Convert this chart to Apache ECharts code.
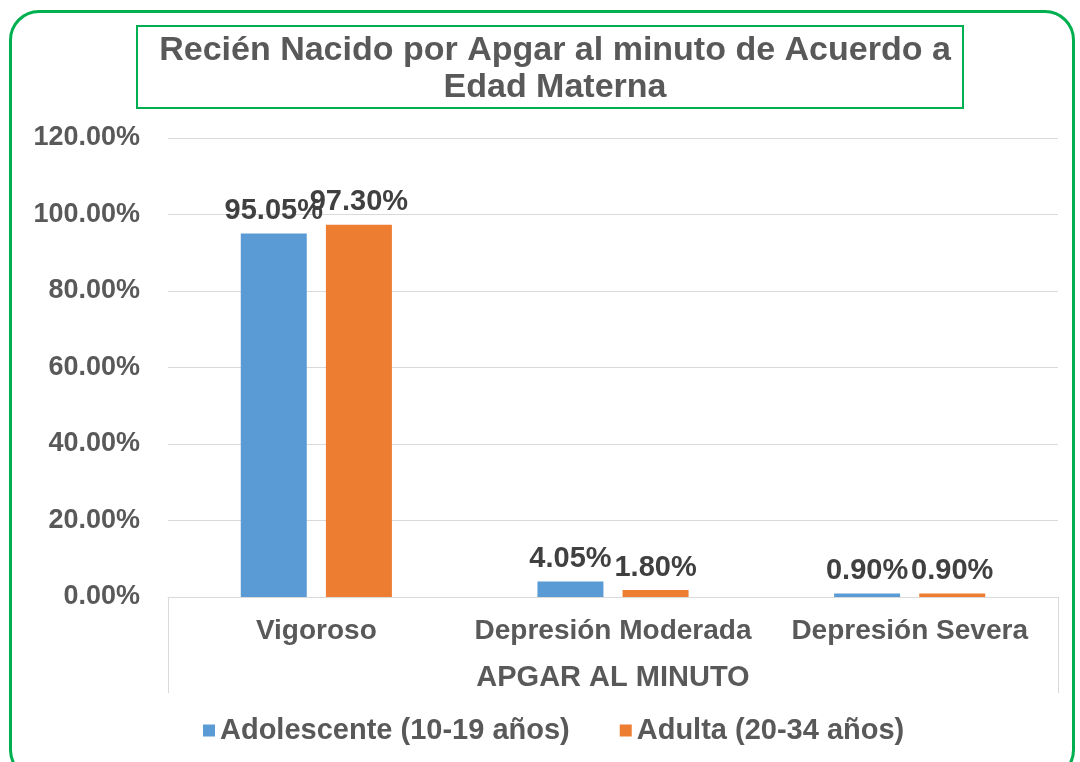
<!DOCTYPE html>
<html>
<head>
<meta charset="utf-8">
<script src="https://cdn.jsdelivr.net/npm/echarts@6/dist/echarts.min.js"></script>
<style>
  html, body { margin: 0; padding: 0; background: #fff; }
  #wrap { position: relative; width: 1080px; height: 762px; overflow: hidden; }
  #frame {
    position: absolute; left: 9px; top: 10px; width: 1066px; height: 770px;
    border: 3px solid #00B050; border-radius: 30px; box-sizing: border-box;
  }
  #chart { position: absolute; left: 0; top: 0; width: 1080px; height: 762px; }
</style>
</head>
<body>
<div id="wrap">
  <div id="frame"></div>
  <div id="chart"></div>
</div>
<script>
  // Apgar al minuto por edad materna
  var categories = ['Vigoroso', 'Depresión Moderada', 'Depresión Severa'];
  var adolescente = [95.05, 4.05, 0.90];
  var adulta = [97.30, 1.80, 0.90];
  var seriesNames = ['Adolescente (10-19 años)', 'Adulta (20-34 años)'];
  var titleText = 'Recién Nacido por Apgar al minuto de Acuerdo a\nEdad Materna';
  var axisName = 'APGAR AL MINUTO';

  var textColor = '#595959';
  var font = '"Liberation Sans", Arial, sans-serif';

  var chart = echarts.init(document.getElementById('chart'), null, { renderer: 'canvas' });

  function pct(v) { return v.toFixed(2) + '%'; }

  var labelStyle = {
    show: true,
    position: 'top',
    distance: 8,
    color: '#404040',
    fontFamily: font,
    fontWeight: 'bold',
    fontSize: 29,
    formatter: function (p) { return pct(p.value); }
  };

  chart.setOption({
    backgroundColor: 'transparent',
    animation: false,
    title: {
      text: titleText,
      left: 550,
      textAlign: 'center',
      top: 27,
      textStyle: {
        color: textColor,
        fontFamily: font,
        fontWeight: 'bold',
        fontSize: 34,
        lineHeight: 37
      }
    },
    graphic: [
      {
        type: 'rect',
        shape: { x: 137, y: 26, width: 826, height: 82 },
        style: { fill: 'none', stroke: '#00B050', lineWidth: 2 }
      },
      {
        type: 'line',
        shape: { x1: 168.5, y1: 597, x2: 168.5, y2: 693 },
        style: { stroke: '#d9d9d9', lineWidth: 1 }
      },
      {
        type: 'line',
        shape: { x1: 1058.5, y1: 597, x2: 1058.5, y2: 693 },
        style: { stroke: '#d9d9d9', lineWidth: 1 }
      }
    ],
    legend: {
      data: seriesNames,
      left: 198,
      top: 711,
      icon: 'rect',
      itemWidth: 12,
      itemHeight: 12,
      itemGap: 50,
      textStyle: {
        color: textColor,
        fontFamily: font,
        fontWeight: 'bold',
        fontSize: 29
      }
    },
    grid: { left: 168, right: 22, top: 138, bottom: 165 },
    xAxis: {
      type: 'category',
      data: categories,
      name: axisName,
      nameLocation: 'middle',
      nameGap: 66,
      nameTextStyle: {
        color: textColor,
        fontFamily: font,
        fontWeight: 'bold',
        fontSize: 29
      },
      axisLine: { lineStyle: { color: '#d9d9d9', width: 1 } },
      axisTick: { show: false },
      axisLabel: {
        interval: 0,
        color: textColor,
        fontFamily: font,
        fontWeight: 'bold',
        fontSize: 28,
        margin: 20
      }
    },
    yAxis: {
      type: 'value',
      min: 0,
      max: 120,
      interval: 20,
      axisLine: { show: false },
      axisTick: { show: false },
      splitLine: { lineStyle: { color: '#d9d9d9', width: 1 } },
      axisLabel: {
        color: textColor,
        fontFamily: font,
        fontWeight: 'bold',
        fontSize: 27,
        margin: 28,
        formatter: function (v) { return pct(v); }
      }
    },
    series: [
      {
        name: seriesNames[0],
        type: 'bar',
        data: adolescente,
        barWidth: 66,
        barGap: '29%',
        itemStyle: { color: '#5B9BD5' },
        label: labelStyle
      },
      {
        name: seriesNames[1],
        type: 'bar',
        data: adulta,
        barWidth: 66,
        itemStyle: { color: '#ED7D31' },
        label: labelStyle
      }
    ]
  });
</script>
</body>
</html>
